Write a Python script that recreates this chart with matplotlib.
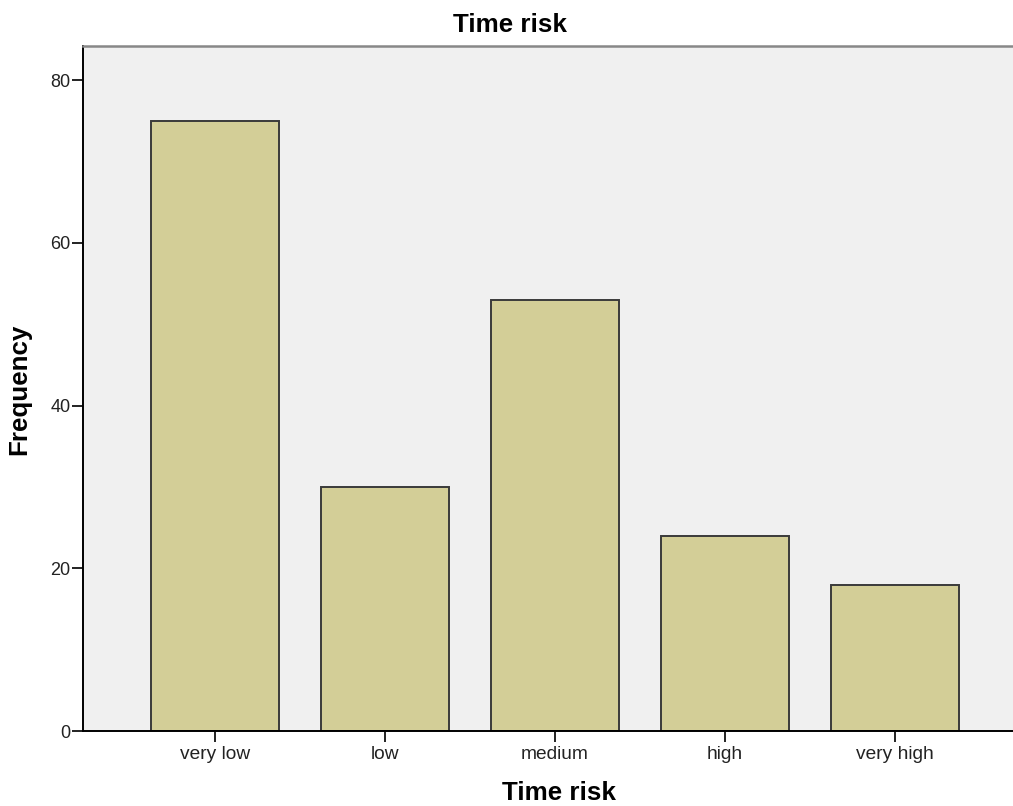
import matplotlib.pyplot as plt

categories = ['very low', 'low', 'medium', 'high', 'very high']
frequency = [75, 30, 53, 24, 18]
y_ticks = [0, 20, 40, 60, 80]

plt.rcParams['font.family'] = ['Liberation Sans', 'DejaVu Sans']

W, H = 1013, 806
fig = plt.figure(figsize=(W / 100, H / 100), dpi=100)
ax = fig.add_axes([83 / W, (H - 731) / H, (W - 83) / W, (731 - 46) / H])
ax.set_facecolor('#f0f0f0')

x = list(range(len(categories)))
ax.bar(x, frequency, width=0.753, color='#d3ce97', edgecolor='#3a3a3a', linewidth=1.4, zorder=2)

ax.set_xlim(-0.776, 4.694)
ax.set_ylim(0, 84.2)
ax.set_xticks(x)
ax.set_xticklabels(categories, fontsize=13.8)
ax.set_yticks(y_ticks)
ax.set_yticklabels([str(v) for v in y_ticks], fontsize=13)

ax.tick_params(axis='x', length=8, width=1.4, direction='out', pad=3, colors='#222222')
ax.tick_params(axis='y', length=8, width=1.4, direction='out', pad=1, colors='#222222')

ax.spines['right'].set_visible(False)
ax.spines['top'].set_color('#888888')
ax.spines['top'].set_linewidth(1.8)
ax.spines['left'].set_linewidth(1.4)
ax.spines['bottom'].set_linewidth(1.4)

# titles placed in pixel terms like the SPSS output
fig.text(510 / W, 1 - 32.5 / H, 'Time risk', fontsize=18.7, fontweight='bold', ha='center', va='baseline')
fig.text(559 / W, 1 - 800 / H, 'Time risk', fontsize=18.7, fontweight='bold', ha='center', va='baseline')
fig.text(19 / W, 1 - 389 / H, 'Frequency', fontsize=18.7, fontweight='bold', ha='center', va='center', rotation=90)

fig.savefig('out.png', dpi=100)
